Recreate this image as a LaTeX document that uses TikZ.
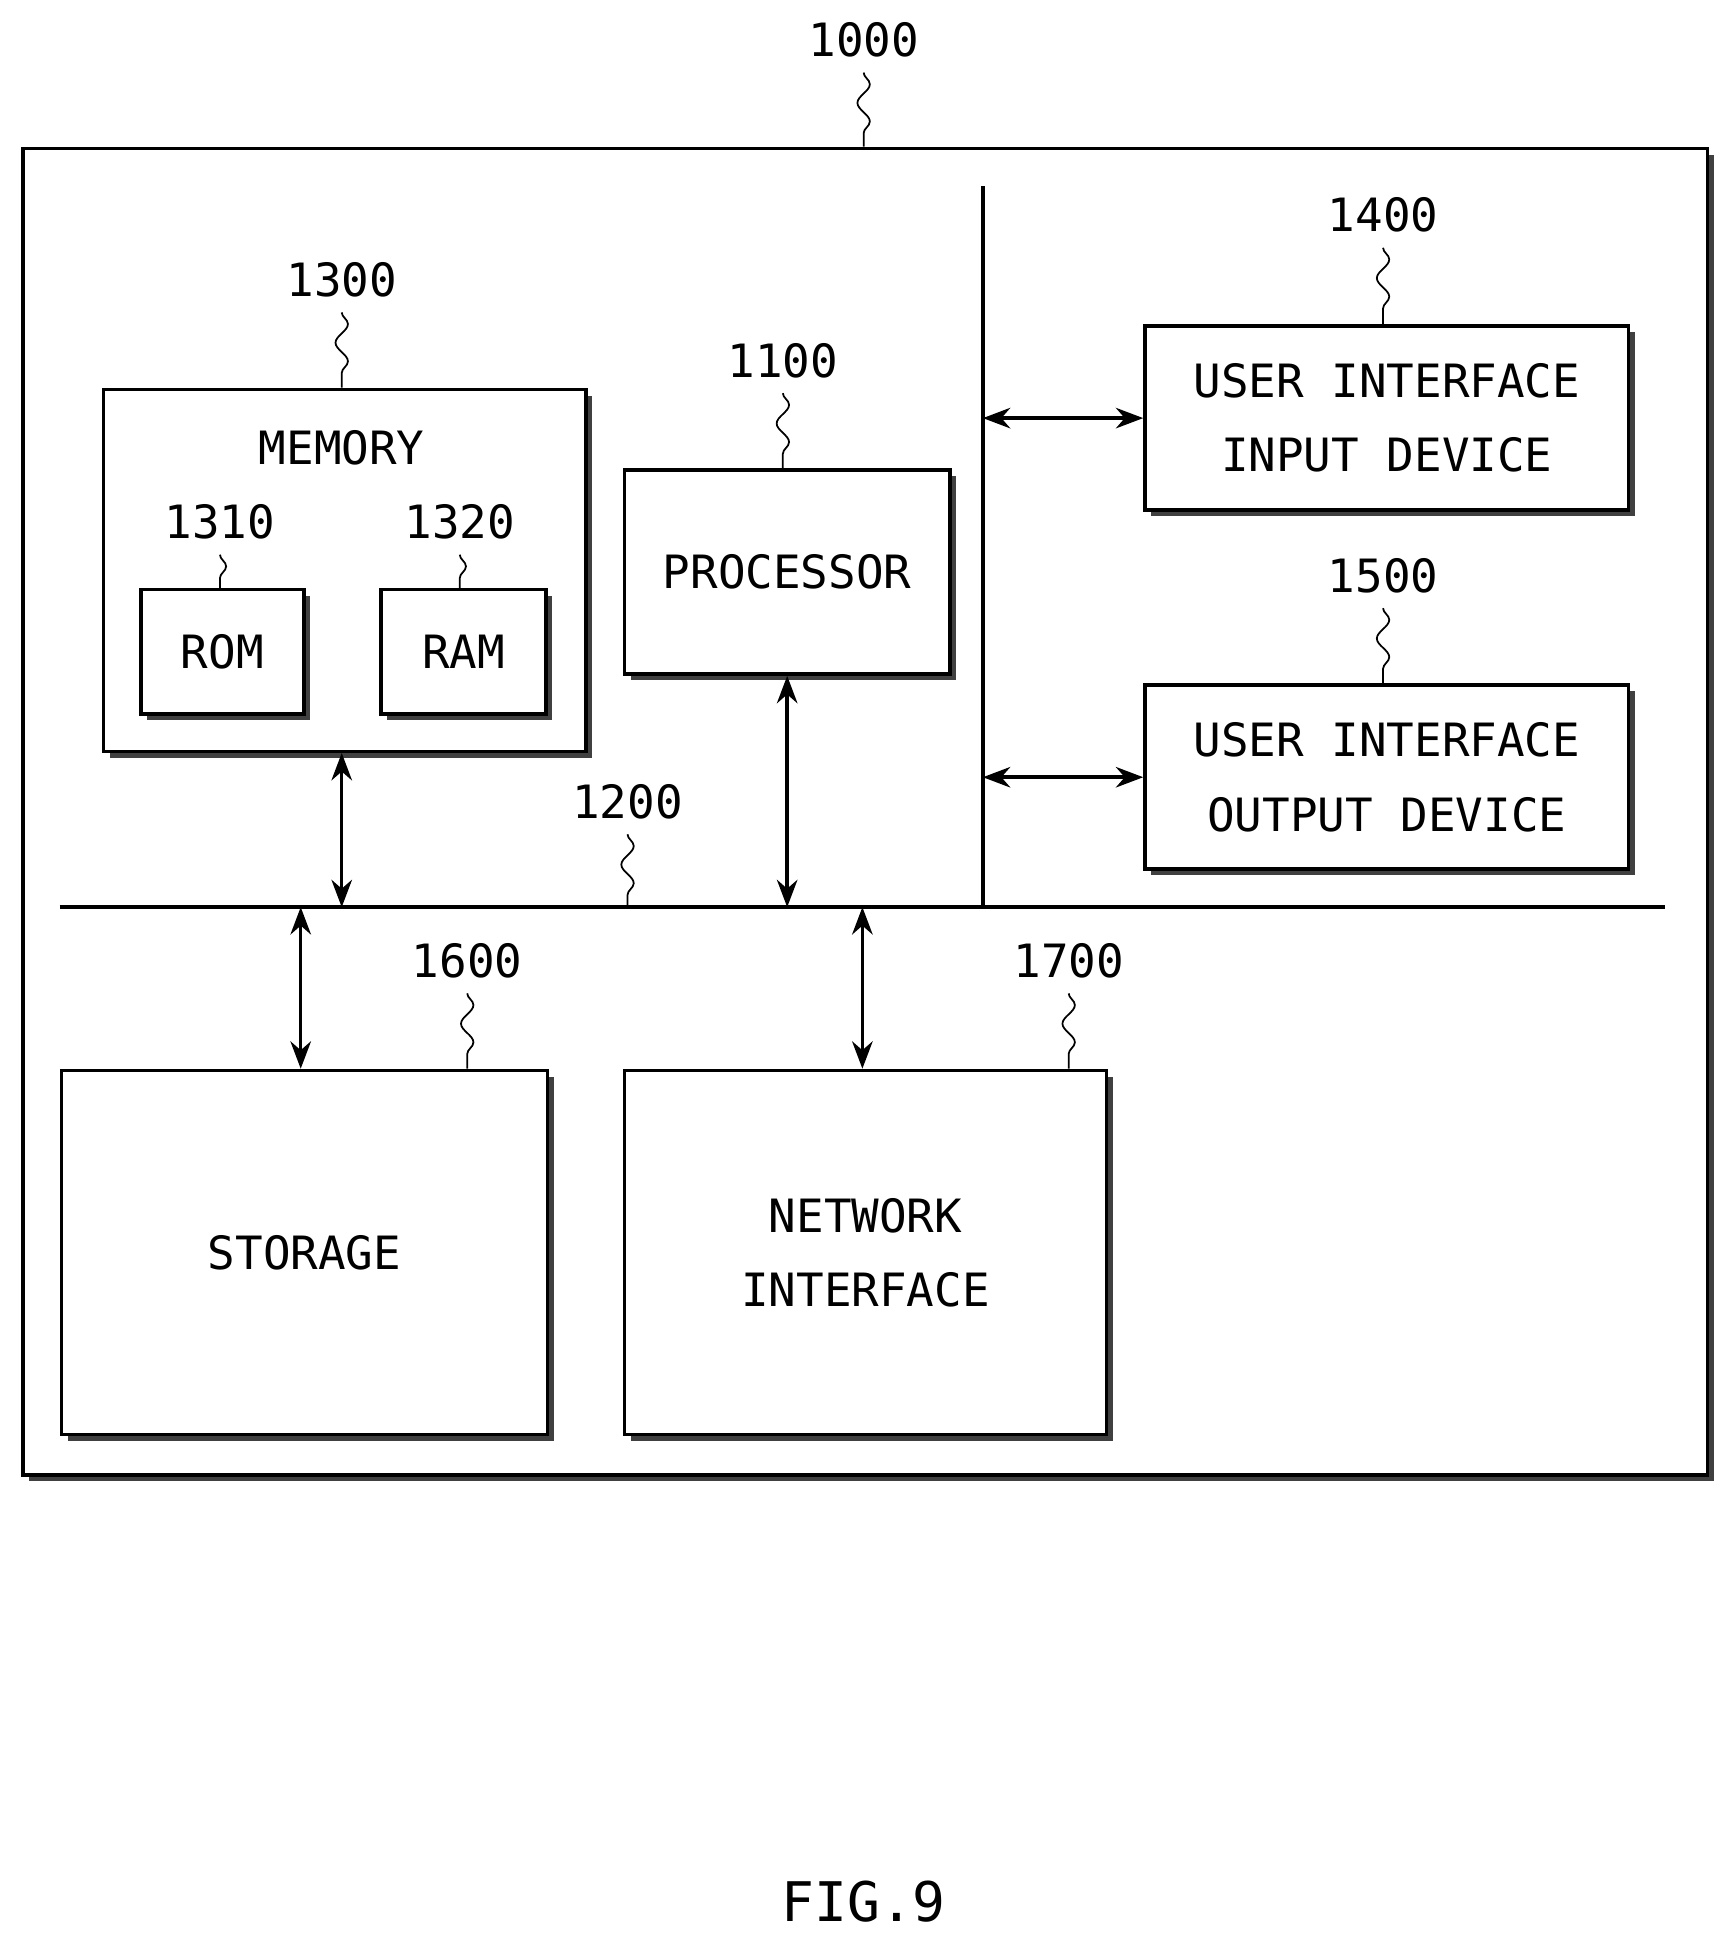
\documentclass[tikz,border=0pt]{standalone}
\usepackage{fontspec}
\setmonofont{DejaVu Sans Mono}
\usetikzlibrary{positioning, arrows.meta, decorations.pathmorphing, shadows}
\tikzset{
    box/.style={draw, thick, fill=white, anchor=north west, inner sep=0pt,
        align=center, font=\ttfamily\fontsize{10.5}{17}\selectfont,
        drop shadow={shadow xshift=0.05cm, shadow yshift=-0.05cm, fill=black!75, opacity=1}},
    num/.style={font=\ttfamily\fontsize{10.5}{13}\selectfont},
    lead/.style={decorate, decoration={snake, amplitude=0.5mm, segment length=3mm}},
    link/.style={thick, {Stealth[length=2.2mm]}-{Stealth[length=2.2mm]}}
}
\begin{document}
\begin{tikzpicture}[x=0.01cm, y=-0.01cm]
    \useasboundingbox (0,0) rectangle (1390,1562);

    % outer frame
    \node[box, minimum width=13.55cm, minimum height=10.67cm] (sys) at (17,118) {};
    \node[num] (n1000) at (695,32) {1000};
    \draw[lead] (n1000.south) -- (sys.north -| n1000);

    % memory
    \node[box, minimum width=3.88cm, minimum height=2.91cm] (mem) at (82,312) {};
    \node[num] at (275,360) {MEMORY};
    \node[box, minimum width=1.31cm, minimum height=1.0cm] (rom) at (112,473) {ROM};
    \node[box, minimum width=1.33cm, minimum height=1.0cm] (ram) at (305,473) {RAM};
    \node[box, minimum width=2.62cm, minimum height=1.64cm] (cpu) at (501,377) {PROCESSOR};
    \node[box, minimum width=3.89cm, minimum height=1.48cm] (uin) at (920,261) {USER INTERFACE\\INPUT DEVICE};
    \node[box, minimum width=3.89cm, minimum height=1.48cm] (uout) at (920,550) {USER INTERFACE\\OUTPUT DEVICE};
    \node[box, minimum width=3.91cm, minimum height=2.93cm] (sto) at (48,860) {STORAGE};
    \node[box, minimum width=3.88cm, minimum height=2.93cm] (net) at (501,860) {NETWORK\\INTERFACE};

    % reference numbers
    \foreach \name/\txt/\x/\y in {mem/1300/275/225, rom/1310/177/420, ram/1320/370/420,
        cpu/1100/630/290, uin/1400/1113/173, uout/1500/1113/463,
        sto/1600/376/773, net/1700/860/773}
    {
        \node[num] (n\txt) at (\x,\y) {\txt};
        \draw[lead] (n\txt.south) -- (\name.north -| n\txt);
    }

    % bus
    \coordinate (busl) at (48,730);
    \coordinate (busr) at (1340,730);
    \coordinate (vtop) at (791,150);
    \draw[thick] (busl) -- (busr);
    \draw[thick] (vtop) -- (vtop |- busl);
    \node[num] (n1200) at (505,645) {1200};
    \draw[lead] (n1200.south) -- (n1200 |- busl);

    % connections
    \draw[link] (mem.south -| 275,0) -- (275,730);
    \draw[link] (cpu.south) -- (cpu.south |- busl);
    \draw[link] (vtop |- uin.west) -- (uin.west);
    \draw[link] (vtop |- uout.west) -- (uout.west);
    \draw[link] (242,730) -- (sto.north -| 242,0);
    \draw[link] (694,730) -- (net.north -| 694,0);

    \node[font=\ttfamily\fontsize{12.5}{15}\selectfont] (fig) at (695,1530) {FIG.9};
\end{tikzpicture}
\end{document}
